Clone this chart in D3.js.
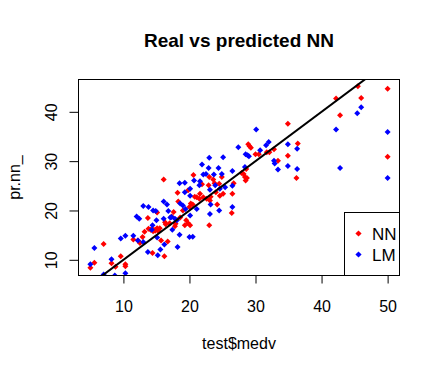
<!DOCTYPE html>
<html>
<head>
<meta charset="utf-8">
<script src="https://cdn.jsdelivr.net/npm/d3@7"></script>
<style>
  body { margin: 0; background: #fff; }
  text { font-family: "Liberation Sans", Arial, sans-serif; fill: #000; }
</style>
</head>
<body>
<svg id="chart" width="440" height="373"></svg>
<script>
// Real vs predicted NN - scatter of test medv against predictions (NN red, LM blue)

// Data
const nnX = [5.0, 5.6, 7.0, 8.2, 8.8, 9.6, 10.3, 10.3, 11.5, 12.2, 12.5, 12.9, 13.2, 13.7, 13.8, 14.1,
  14.5, 14.6, 14.8, 15.0, 15.1, 15.3, 14.4, 15.1, 15.5, 15.7, 16.1, 16.2, 16.3, 16.4, 16.7, 17.0,
  17.3, 17.6, 17.8, 17.9, 18.2, 18.3, 18.6, 19.0, 19.3, 19.5, 19.8, 19.8, 20.1, 20.0, 20.2, 20.5,
  20.6, 20.8, 21.1, 21.5, 21.6, 21.9, 22.1, 22.6, 23.0, 23.0, 22.9, 23.1, 23.2, 23.6, 23.8, 24.0,
  24.2, 24.5, 24.6, 24.9, 25.1, 26.4, 26.5, 26.7, 27.9, 28.2, 28.4, 28.6, 28.5, 28.7, 28.9, 29.1,
  29.3, 30.0, 30.5, 31.7, 32.1, 32.8, 33.4, 34.9, 34.9, 36.4, 36.2, 42.2, 42.8, 45.5, 46.0, 50.0, 50.0];
const nnY = [8.4, 9.4, 13.2, 9.3, 8.6, 10.7, 9.1, 8.7, 14.1, 13.9, 13.4, 14.6, 15.7, 18.5, 16.3, 16.1,
  15.8, 16.1, 15.9, 16.2, 16.4, 15.8, 11.4, 19.6, 16.4, 13.9, 26.3, 10.7, 17.6, 17.2, 13.7, 17.4,
  18.8, 19.7, 16.8, 17.3, 23.6, 21.8, 18.6, 20.0, 17.0, 18.0, 24.1, 17.4, 17.0, 20.7, 21.4, 21.2,
  27.2, 22.8, 22.7, 22.4, 23.4, 25.3, 22.7, 22.4, 17.0, 26.8, 25.1, 22.0, 22.8, 26.3, 25.5, 23.7,
  21.2, 25.4, 23.0, 26.8, 23.4, 19.5, 23.4, 25.5, 27.6, 27.4, 26.8, 28.4, 26.1, 26.6, 33.4, 33.0,
  32.7, 31.4, 31.4, 31.8, 31.8, 32.4, 30.1, 37.6, 31.1, 33.6, 26.6, 42.7, 39.3, 45.2, 42.8, 44.7, 30.9];

const lmX = [5.0, 5.6, 7.0, 8.2, 8.7, 9.6, 10.3, 10.3, 11.5, 12.0, 12.4, 12.2, 13.0, 13.8, 13.0, 13.7,
  14.3, 14.4, 14.5, 14.9, 15.0, 15.1, 15.2, 15.6, 16.1, 16.1, 16.2, 16.6, 16.8, 17.1, 17.3, 17.4,
  17.8, 18.1, 18.2, 18.5, 18.5, 18.6, 19.0, 19.3, 19.3, 19.4, 20.1, 20.1, 20.1, 20.0, 20.5, 20.7,
  21.1, 21.5, 21.6, 21.9, 22.1, 22.5, 22.9, 23.0, 23.1, 23.2, 23.1, 23.7, 23.9, 24.4, 24.5, 24.6,
  24.9, 25.1, 25.4, 26.5, 26.5, 26.5, 27.4, 28.4, 28.5, 28.8, 29.0, 30.1, 30.7, 31.6, 32.0, 32.8,
  32.9, 33.4, 34.9, 34.9, 36.3, 36.3, 42.2, 42.8, 45.4, 46.0, 50.0, 50.0];
const lmY = [9.1, 12.4, 7.0, 10.1, 6.8, 14.3, 14.9, 7.3, 14.9, 18.8, 18.3, 13.9, 20.9, 20.7, 13.6, 11.6,
  16.1, 17.0, 20.0, 19.9, 18.0, 14.5, 10.9, 12.1, 21.8, 18.3, 13.1, 21.2, 19.9, 18.6, 18.7, 16.1,
  18.3, 18.0, 12.6, 25.5, 15.1, 21.4, 21.0, 25.6, 23.7, 20.3, 24.4, 23.0, 19.0, 14.6, 14.7, 26.1,
  20.3, 25.1, 25.9, 29.3, 27.3, 27.4, 28.6, 30.7, 24.2, 21.2, 19.3, 27.3, 25.1, 28.6, 20.0, 24.4,
  27.4, 30.8, 24.7, 28.0, 25.0, 20.7, 32.8, 28.8, 31.4, 31.2, 31.0, 36.4, 32.2, 33.2, 33.9, 30.1,
  29.5, 28.3, 33.4, 29.0, 32.5, 28.4, 36.4, 28.6, 39.7, 40.9, 35.9, 26.6];

const xTicks = [10, 20, 30, 40, 50];
const yTicks = [10, 20, 30, 40];
const legendLabels = ["NN", "LM"];
const legendColors = ["red", "blue"];

// Plot region
const plot = { left: 78.5, right: 399.5, top: 79.5, bottom: 275.5 };

const svg = d3.select("#chart");

// R-style 4% padding around the data range
const xScale = d3.scaleLinear().domain([3.2, 51.8]).range([plot.left, plot.right]);
const yScale = d3.scaleLinear().domain([6.82, 46.55]).range([plot.bottom, plot.top]);

svg.append("defs").append("clipPath").attr("id", "clip")
  .append("rect")
  .attr("x", plot.left).attr("y", plot.top)
  .attr("width", plot.right - plot.left).attr("height", plot.bottom - plot.top);

// small filled diamond like pch = 18
const diamond = (cx, cy, r) => `M${cx},${cy - r}L${cx + r},${cy}L${cx},${cy + r}L${cx - r},${cy}Z`;

const pts = svg.append("g").attr("clip-path", "url(#clip)");

pts.selectAll(".nn")
  .data(nnX.map((x, i) => [x, nnY[i]]))
  .enter().append("path")
  .attr("class", "nn")
  .attr("d", d => diamond(xScale(d[0]), yScale(d[1]), 3))
  .attr("fill", "red");

pts.selectAll(".lm")
  .data(lmX.map((x, i) => [x, lmY[i]]))
  .enter().append("path")
  .attr("class", "lm")
  .attr("d", d => diamond(xScale(d[0]), yScale(d[1]), 3))
  .attr("fill", "blue");

// abline(0, 1)
pts.append("line")
  .attr("x1", xScale(0)).attr("y1", yScale(0))
  .attr("x2", xScale(60)).attr("y2", yScale(60))
  .attr("stroke", "#000")
  .attr("stroke-width", 2);

// box
svg.append("rect")
  .attr("x", plot.left).attr("y", plot.top)
  .attr("width", plot.right - plot.left).attr("height", plot.bottom - plot.top)
  .attr("fill", "none").attr("stroke", "#000");

// x axis
const xAxis = svg.append("g")
  .attr("transform", "translate(0," + plot.bottom + ")")
  .call(d3.axisBottom(xScale).tickValues(xTicks).tickSize(8).tickPadding(17).tickSizeOuter(0));
xAxis.select(".domain").remove();
xAxis.append("line")
  .attr("x1", xScale(xTicks[0])).attr("x2", xScale(xTicks[xTicks.length - 1]))
  .attr("stroke", "#000");
xAxis.selectAll("text").style("font-size", "16px").attr("fill", "#000")
  .style("font-family", "'Liberation Sans', Arial, sans-serif");

// y axis, labels parallel to the axis
const yAxis = svg.append("g")
  .attr("transform", "translate(" + plot.left + ",0)")
  .call(d3.axisLeft(yScale).tickValues(yTicks).tickSize(9).tickSizeOuter(0));
yAxis.select(".domain").remove();
yAxis.append("line")
  .attr("y1", yScale(yTicks[0])).attr("y2", yScale(yTicks[yTicks.length - 1]))
  .attr("stroke", "#000");
yAxis.selectAll(".tick text")
  .attr("x", null).attr("dy", null)
  .attr("transform", "translate(-22,0) rotate(-90)")
  .attr("text-anchor", "middle")
  .attr("fill", "#000")
  .style("font-size", "16px")
  .style("font-family", "'Liberation Sans', Arial, sans-serif");

// title and axis labels
svg.append("text")
  .attr("x", (plot.left + plot.right) / 2).attr("y", 47)
  .attr("text-anchor", "middle")
  .style("font-size", "19px").style("font-weight", "bold")
  .text("Real vs predicted NN");

svg.append("text")
  .attr("x", (plot.left + plot.right) / 2).attr("y", 349)
  .attr("text-anchor", "middle")
  .style("font-size", "16px")
  .text("test$medv");

svg.append("text")
  .attr("transform", "translate(20," + (plot.top + plot.bottom) / 2 + ") rotate(-90)")
  .attr("text-anchor", "middle")
  .style("font-size", "16px")
  .text("pr.nn_");

// legend, bottom right
const legend = svg.append("g");
legend.append("rect")
  .attr("x", 344.5).attr("y", 212.5)
  .attr("width", plot.right - 344.5).attr("height", plot.bottom - 212.5)
  .attr("fill", "#fff").attr("stroke", "#000");

legendLabels.forEach((lab, i) => {
  const y = 233.5 + i * 21;
  legend.append("path")
    .attr("d", diamond(358.5, y, 3.1))
    .attr("fill", legendColors[i]);
  legend.append("text")
    .attr("x", 372).attr("y", y + 6.5)
    .style("font-size", "17px")
    .text(lab);
});
</script>
</body>
</html>
